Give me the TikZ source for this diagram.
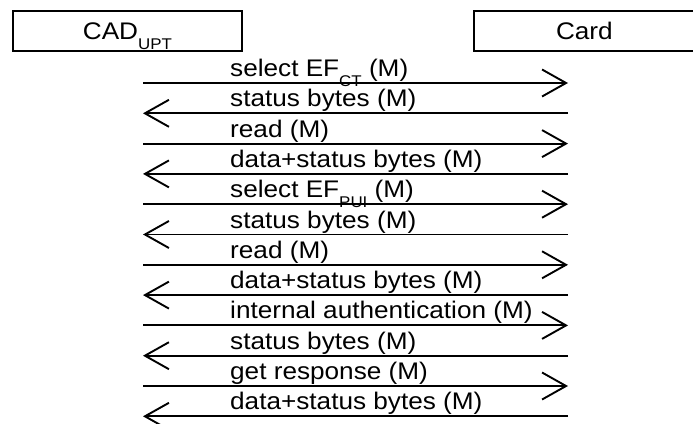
\documentclass[tikz,border=0pt]{standalone}
\usepackage{fontspec}
\setmainfont{Liberation Sans}[FakeStretch=1.09]
\usetikzlibrary{arrows.meta}
\newcommand{\subt}[1]{\raisebox{-10pt}{\fontsize{15.5}{16}\selectfont #1}}
\begin{document}
\begin{tikzpicture}[x=1pt,y=-1pt,
  every node/.style={font=\fontsize{24}{28}\selectfont, inner sep=0pt},
  partbox/.style={draw, line width=1.8pt, minimum width=229pt, minimum height=40pt, anchor=north west, text height=17.2pt, text depth=0pt},
  msg/.style={line width=1.9pt, -{Straight Barb[length=24pt,width=27pt,line width=1.9pt]}},
  lbl/.style={anchor=base west}]
\useasboundingbox (0,0) rectangle (693,423);
\node[partbox] (cad) at (12,10) {CAD\subt{UPT}};
\node[partbox, minimum width=221pt] (card) at (473,10) {Card};
\foreach \i/\dir/\txt in {
  1/r/{select EF\subt{CT} (M)},
  2/l/{status bytes (M)},
  3/r/{read (M)},
  4/l/{data+status bytes (M)},
  5/r/{select EF\subt{PUI} (M)},
  6/l/{status bytes (M)},
  7/r/{read (M)},
  8/l/{data+status bytes (M)},
  9/r/{internal authentication (M)},
  10/l/{status bytes (M)},
  11/r/{get response (M)},
  12/l/{data+status bytes (M)}} {
  \pgfmathsetmacro{\yy}{83+30.3*(\i-1)}
  \coordinate (l\i) at (143,\yy);
  \coordinate (r\i) at (568,\yy);
  \node[lbl] (t\i) at (230,\yy-6.5) {\txt};
  \if r\dir
    \draw[msg] (l\i) -- (r\i);
  \else
    \draw[msg] (r\i) -- (l\i);
  \fi
}
\end{tikzpicture}
\end{document}
